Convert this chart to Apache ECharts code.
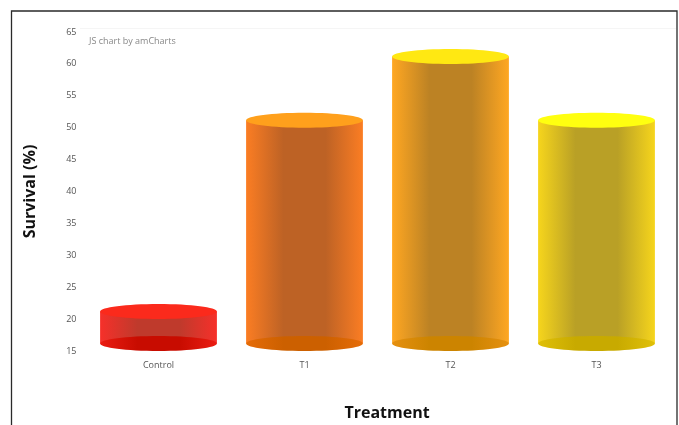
<!DOCTYPE html>
<html>
<head>
<meta charset="utf-8">
<style>html,body{margin:0;padding:0;background:#fff}#chart{width:679px;height:425px}</style>
<script src="https://cdn.jsdelivr.net/npm/echarts@6/dist/echarts.min.js"></script>
</head>
<body>
<div id="chart"></div>
<script>
const categories = ['Control', 'T1', 'T2', 'T3'];
const survival = [20, 50, 60, 50];
const sideEdge = ['#f6302a', '#fb7d23', '#ffa722', '#f6d51c'];
const sideMiddle = ['#bf3a2c', '#bd6225', '#bc8224', '#b9a026'];
const capTop = ['#fb2a1c', '#ffa01c', '#ffe812', '#ffff10'];
const capBottom = ['#c80c00', '#cc6000', '#cc8400', '#c8aa00'];
const capBottomEdge = ['#ea1c12', '#e66c08', '#e69010', '#e0c008'];

const axisMin = 15;
const axisMax = 65;
const capRadiusY = 7.5;   // half height of the elliptical caps
const barShare = 0.8;     // column width as a share of the category band
const labelFont = '"Open Sans", sans-serif';

function drawCylinder(params, api) {
  const i = api.value(0);
  const base = api.coord([i, axisMin]);
  const top = api.coord([i, api.value(1)]);
  const width = api.size([1, 0])[0] * barShare;
  const x = base[0] - width / 2;
  const yBase = base[1] - capRadiusY;
  const yTop = top[1] - capRadiusY;
  return {
    type: 'group',
    children: [
      {
        type: 'rect',
        shape: { x: x, y: yTop, width: width, height: yBase - yTop },
        style: {
          fill: new echarts.graphic.LinearGradient(0, 0, 1, 0, [
            { offset: 0, color: sideEdge[i] },
            { offset: 0.32, color: sideMiddle[i] },
            { offset: 0.68, color: sideMiddle[i] },
            { offset: 1, color: sideEdge[i] }
          ])
        }
      },
      {
        type: 'ellipse',
        shape: { cx: base[0], cy: yBase, rx: width / 2, ry: capRadiusY },
        style: {
          fill: new echarts.graphic.LinearGradient(0, 0, 1, 0, [
            { offset: 0, color: capBottomEdge[i] },
            { offset: 0.32, color: capBottom[i] },
            { offset: 0.68, color: capBottom[i] },
            { offset: 1, color: capBottomEdge[i] }
          ])
        }
      },
      {
        type: 'ellipse',
        shape: { cx: base[0], cy: yTop, rx: width / 2, ry: capRadiusY },
        style: { fill: capTop[i] }
      }
    ]
  };
}

const chart = echarts.init(document.getElementById('chart'), null, { renderer: 'canvas' });
chart.setOption({
  animation: false,
  backgroundColor: '#ffffff',
  title: {
    text: 'JS chart by amCharts',
    left: 84,
    top: 32,
    textStyle: { color: '#888888', fontSize: 9, fontWeight: 'normal', fontFamily: labelFont }
  },
  grid: { left: 85.5, right: 9.5, top: 32, bottom: 74, outerBoundsMode: 'none' },
  xAxis: {
    type: 'category',
    data: categories,
    axisLine: { show: false },
    axisTick: { show: false },
    axisLabel: { color: '#555555', fontSize: 9, fontFamily: labelFont, margin: 10 },
    name: 'Treatment',
    nameLocation: 'middle',
    nameGap: 54,
    nameTextStyle: { color: '#111111', fontSize: 16, fontWeight: 'bold', fontFamily: labelFont, padding: [0, 0, 0, 19] }
  },
  yAxis: {
    type: 'value',
    min: axisMin,
    max: axisMax,
    interval: 5,
    axisLine: { show: false },
    axisTick: { show: false },
    splitLine: { show: false },
    axisLabel: { color: '#555555', fontSize: 9, fontFamily: labelFont, margin: 9 },
    name: 'Survival (%)',
    nameLocation: 'middle',
    nameGap: 47,
    nameRotate: 90,
    nameTextStyle: { color: '#111111', fontSize: 16, fontWeight: 'bold', fontFamily: labelFont }
  },
  series: [{
    type: 'custom',
    name: 'Survival',
    renderItem: drawCylinder,
    encode: { x: 0, y: 1 },
    data: survival.map((v, i) => [i, v])
  }],
  graphic: [
    {
      type: 'line',
      silent: true,
      shape: { x1: 80, y1: 28.5, x2: 676, y2: 28.5 },
      style: { stroke: '#f5f5f5', lineWidth: 1 }
    },
    {
      type: 'rect',
      silent: true,
      shape: { x: 11.5, y: 11, width: 665.5, height: 430 },
      style: { fill: 'none', stroke: '#2a2a2a', lineWidth: 1.3 }
    }
  ]
});
</script>
</body>
</html>
